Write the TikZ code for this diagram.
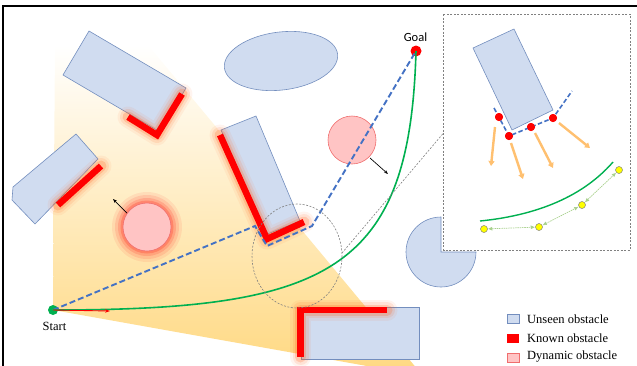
\documentclass[tikz,border=0pt]{standalone}
\usepackage{fontspec}
\setmainfont{Liberation Serif}
\newfontfamily\goalfont{Carlito}
\usetikzlibrary{arrows.meta}
\definecolor{obsfill}{RGB}{208,220,240}
\definecolor{obsdraw}{RGB}{115,142,190}
\definecolor{pathblue}{RGB}{68,114,196}
\definecolor{pathgreen}{RGB}{0,176,80}
\definecolor{wallred}{RGB}{255,0,0}
\definecolor{glowc}{RGB}{255,100,30}
\definecolor{dynfill}{RGB}{255,196,196}
\definecolor{dyndraw}{RGB}{240,110,110}
\definecolor{fanyellow}{RGB}{255,216,128}
\definecolor{arroworange}{RGB}{255,192,112}
\definecolor{lightgreen}{RGB}{169,209,142}
\definecolor{dotyellow}{RGB}{255,255,0}
\tikzset{
  obstacle/.style={fill=obsfill, draw=obsdraw, line width=0.6pt},
  dynobs/.style={fill=dynfill, draw=dyndraw, line width=0.6pt},
  wall/.style={draw=wallred, line width=6.5pt, line join=miter,
    preaction={draw=glowc, line width=21pt, opacity=0.07, line cap=round, line join=round},
    preaction={draw=glowc, line width=16pt, opacity=0.12, line cap=round, line join=round},
    preaction={draw=glowc, line width=11pt, opacity=0.22, line cap=round, line join=round}},
  bluepath/.style={draw=pathblue, line width=1.9pt, dash pattern=on 6pt off 3pt},
  greenpath/.style={draw=pathgreen, line width=1.6pt},
  zoomline/.style={draw=gray, line width=0.6pt, dash pattern=on 2pt off 1.5pt},
  movearrow/.style={draw=black, line width=0.7pt, -{Stealth[length=4pt,width=3pt]}},
  reddot/.style={circle, fill=wallred, inner sep=0pt, minimum size=8pt},
  ydot/.style={circle, fill=dotyellow, draw=gray, line width=0.5pt, inner sep=0pt, minimum size=7pt},
  oarrow/.style={draw=arroworange, line width=2.4pt, -{Triangle[length=5pt,width=6pt]}},
  garrow/.style={draw=lightgreen, line width=0.7pt, dash pattern=on 1.5pt off 0.8pt,
    {Triangle[length=4pt,width=3.5pt]}-{Triangle[length=4pt,width=3.5pt]}, shorten <=0.5pt, shorten >=0.5pt},
  lbl/.style={font=\fontsize{12.5}{14}\selectfont, inner sep=0pt},
  legsq/.style={minimum width=12pt, minimum height=9pt, inner sep=0pt}
}
\begin{document}
\begin{tikzpicture}[x=1pt,y=-1pt]
\useasboundingbox (0,0) rectangle (637,365);
\begin{scope}
\clip (0,0) rectangle (637,365);
% sensing fan
\shade[top color=white, middle color=fanyellow!42, bottom color=fanyellow] (53,310) -- (55,45) -- (148,45) -- (423,376) -- cycle;
% frame
\draw[line width=1.4pt] (3,366) -- (3,6) -- (638,6);

% unseen obstacles
\filldraw[obstacle] (89,31) -- (186,88) -- (160,132) -- (63,75) -- cycle;
\filldraw[obstacle, rotate around={7:(281,61)}] (281,61) ellipse [x radius=57, y radius=29];
\filldraw[obstacle] (76,134) -- (98,159) -- (35,224) -- (12,200) -- (13,187) -- cycle;
\filldraw[obstacle] (221,130) -- (256,116) -- (300,221) -- (265,235) -- cycle;
\filldraw[obstacle] (441,252) -- (476,252) arc[start angle=0, end angle=270, radius=35] -- cycle;
\filldraw[obstacle] (301,307) rectangle (419,359);

% known walls
\draw[wall] (128,117) -- (157,135) -- (182,94);
\draw[wall] (101,166) -- (58,205);
\draw[wall] (220,135) -- (267,239) -- (304,222);
\draw[wall] (387,310) -- (300.5,310) -- (300.5,357);

% dynamic obstacles
\foreach \r/\o in {35/0.07,32/0.10,29/0.14,26.5/0.2}
  \fill[wallred, opacity=\o] (147,227) circle (\r);
\filldraw[dynobs] (147,227) circle (24);
\filldraw[dynobs] (352,140) circle (24);
\coordinate (d1s) at (370,158);
\coordinate (d1e) at (388,174);
\coordinate (d2s) at (127,213);
\coordinate (d2e) at (113,199);
\draw[movearrow] (d1s) -- (d1e);
\draw[movearrow] (d2s) -- (d2e);

% start / goal
\node[circle, fill=pathgreen, inner sep=0pt, minimum size=10pt] (start) at (53,310) {};
\node[circle, fill=wallred, inner sep=0pt, minimum size=11pt] (goal) at (416,51) {};
\node[lbl] (startlbl) at (54.5,326.5) {Start};
\node[lbl, font=\goalfont\fontsize{12.5}{14}\selectfont] (goallbl) at (415.5,37) {Goal};

% paths
\coordinate (b1) at (255,226);
\coordinate (b2) at (267,246);
\coordinate (b3) at (312,226);
\draw[bluepath] (start.center) -- (b1) -- (b2) -- (b3) -- (goal.center);
\draw[greenpath] (start.center) .. controls (330,310) and (410,270) .. (goal.center);
\coordinate (hd) at (110,311);
\draw[wallred, line width=0.9pt, -{Stealth[length=5pt,width=3.5pt]}] (start.center) -- (hd);

% zoom marker
\draw[zoomline] (297,256) ellipse [x radius=45, y radius=52];
\coordinate (zc) at (342,253);
\coordinate (zi) at (443.5,133);
\draw[zoomline] (zc) -- (zi);

% inset
\draw[zoomline] (443.5,14) rectangle (630,250);
\filldraw[obstacle] (473,48) -- (514,29) -- (553,110) -- (512,130) -- cycle;
\coordinate (i0) at (494,108);
\coordinate (i4) at (572,91);
\node[reddot] (r1) at (499,117) {};
\node[reddot] (r2) at (509,136) {};
\node[reddot] (r3) at (531,127) {};
\node[reddot] (r4) at (553,118) {};
\draw[bluepath, line width=1.6pt, dash pattern=on 4.5pt off 2.5pt] (i0) -- (r2.center) -- (r4.center) -- (i4);
\foreach \n in {r1,r2,r3,r4} \node[reddot] at (\n) {};
\coordinate (o1s) at (495,127); \coordinate (o1e) at (491,166);
\coordinate (o2s) at (511,143); \coordinate (o2e) at (523,179);
\coordinate (o3s) at (535,133); \coordinate (o3e) at (553,168);
\coordinate (o4s) at (559,123); \coordinate (o4e) at (590,148);
\draw[oarrow] (o1s) -- (o1e);
\draw[oarrow] (o2s) -- (o2e);
\draw[oarrow] (o3s) -- (o3e);
\draw[oarrow] (o4s) -- (o4e);
\coordinate (g1) at (480,221);
\coordinate (g2) at (613,162);
\draw[greenpath, line width=1.4pt] (g1) .. controls (530,216) and (580,200) .. (g2);
\node[ydot] (y1) at (484,229) {};
\node[ydot] (y2) at (539,227) {};
\node[ydot] (y3) at (582,205) {};
\node[ydot] (y4) at (619,170) {};
\draw[garrow] (y1) -- (y2);
\draw[garrow] (y2) -- (y3);
\draw[garrow] (y3) -- (y4);

% legend
\node[legsq, fill=obsfill, draw=obsdraw, line width=0.6pt] (l1) at (513,318.5) {};
\node[legsq, fill=wallred] (l2) at (513,338) {};
\node[legsq, fill=dynfill, draw=dyndraw, line width=0.6pt] (l3) at (513,358) {};
\node[lbl, anchor=west] (t1) at (527,319) {Unseen obstacle};
\node[lbl, anchor=west] (t2) at (527,338) {Known obstacle};
\node[lbl, anchor=west] (t3) at (527,357) {Dynamic obstacle};
\end{scope}
\end{tikzpicture}
\end{document}
